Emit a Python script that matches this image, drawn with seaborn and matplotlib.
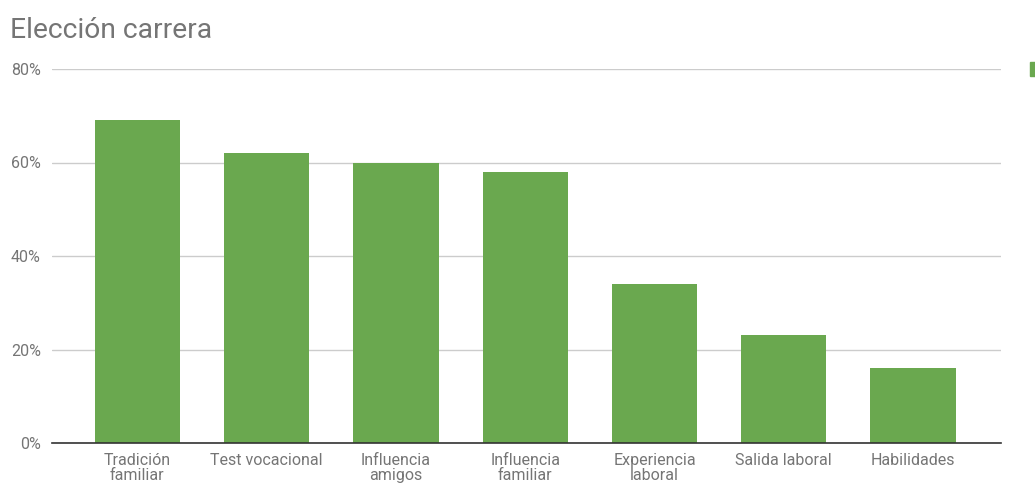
import matplotlib
matplotlib.use("Agg")
import matplotlib.pyplot as plt
import seaborn as sns
import pandas as pd
from matplotlib.patches import Rectangle

categories = ["Tradición\nfamiliar", "Test vocacional", "Influencia\namigos",
              "Influencia\nfamiliar", "Experiencia\nlaboral", "Salida laboral", "Habilidades"]
values = [69, 62, 60, 58, 34, 23, 16]
y_ticks = [0, 20, 40, 60, 80]
title = "Elección carrera"

bar_color = "#6aa84f"
text_color = "#757575"

sns.set_theme(style="white")
plt.rcParams["font.family"] = ["Roboto", "DejaVu Sans"]

df = pd.DataFrame({"categoria": categories, "valor": values})

fig = plt.figure(figsize=(10.35, 4.84), dpi=100)
ax = fig.add_axes([52 / 1035, 1 - 443 / 484, (1001 - 52) / 1035, (443 - 69) / 484])

sns.barplot(data=df, x="categoria", y="valor", color=bar_color, saturation=1,
            width=0.66, ax=ax, zorder=3, linewidth=0)

ax.set_ylim(0, 80)
ax.set_xlim(-0.66, 6.68)
ax.set_yticks(y_ticks)
ax.set_yticklabels([f"{v}%" for v in y_ticks])
ax.yaxis.grid(True, color="#cccccc", linewidth=1, zorder=0)
ax.set_xlabel("")
ax.set_ylabel("")
for s in ["top", "right", "left"]:
    ax.spines[s].set_visible(False)
ax.spines["bottom"].set_color("#333333")
ax.spines["bottom"].set_linewidth(1.2)
ax.spines["bottom"].set_zorder(4)

ax.tick_params(axis="y", length=0, pad=8, labelsize=11.5, labelcolor=text_color)
ax.tick_params(axis="x", length=0, pad=7, labelsize=11.5, labelcolor=text_color)
for lbl in ax.get_xticklabels():
    lbl.set_linespacing(1.05)

fig.text(10 / 1035, 1 - 30 / 484, title, fontsize=20.3, color=text_color,
         ha="left", va="center")

# legend swatch at the right edge
fig.patches.append(Rectangle((1030 / 1035, 1 - 76 / 484), 12 / 1035, 14 / 484,
                             transform=fig.transFigure, color=bar_color))

fig.savefig("out.png", dpi=100)
